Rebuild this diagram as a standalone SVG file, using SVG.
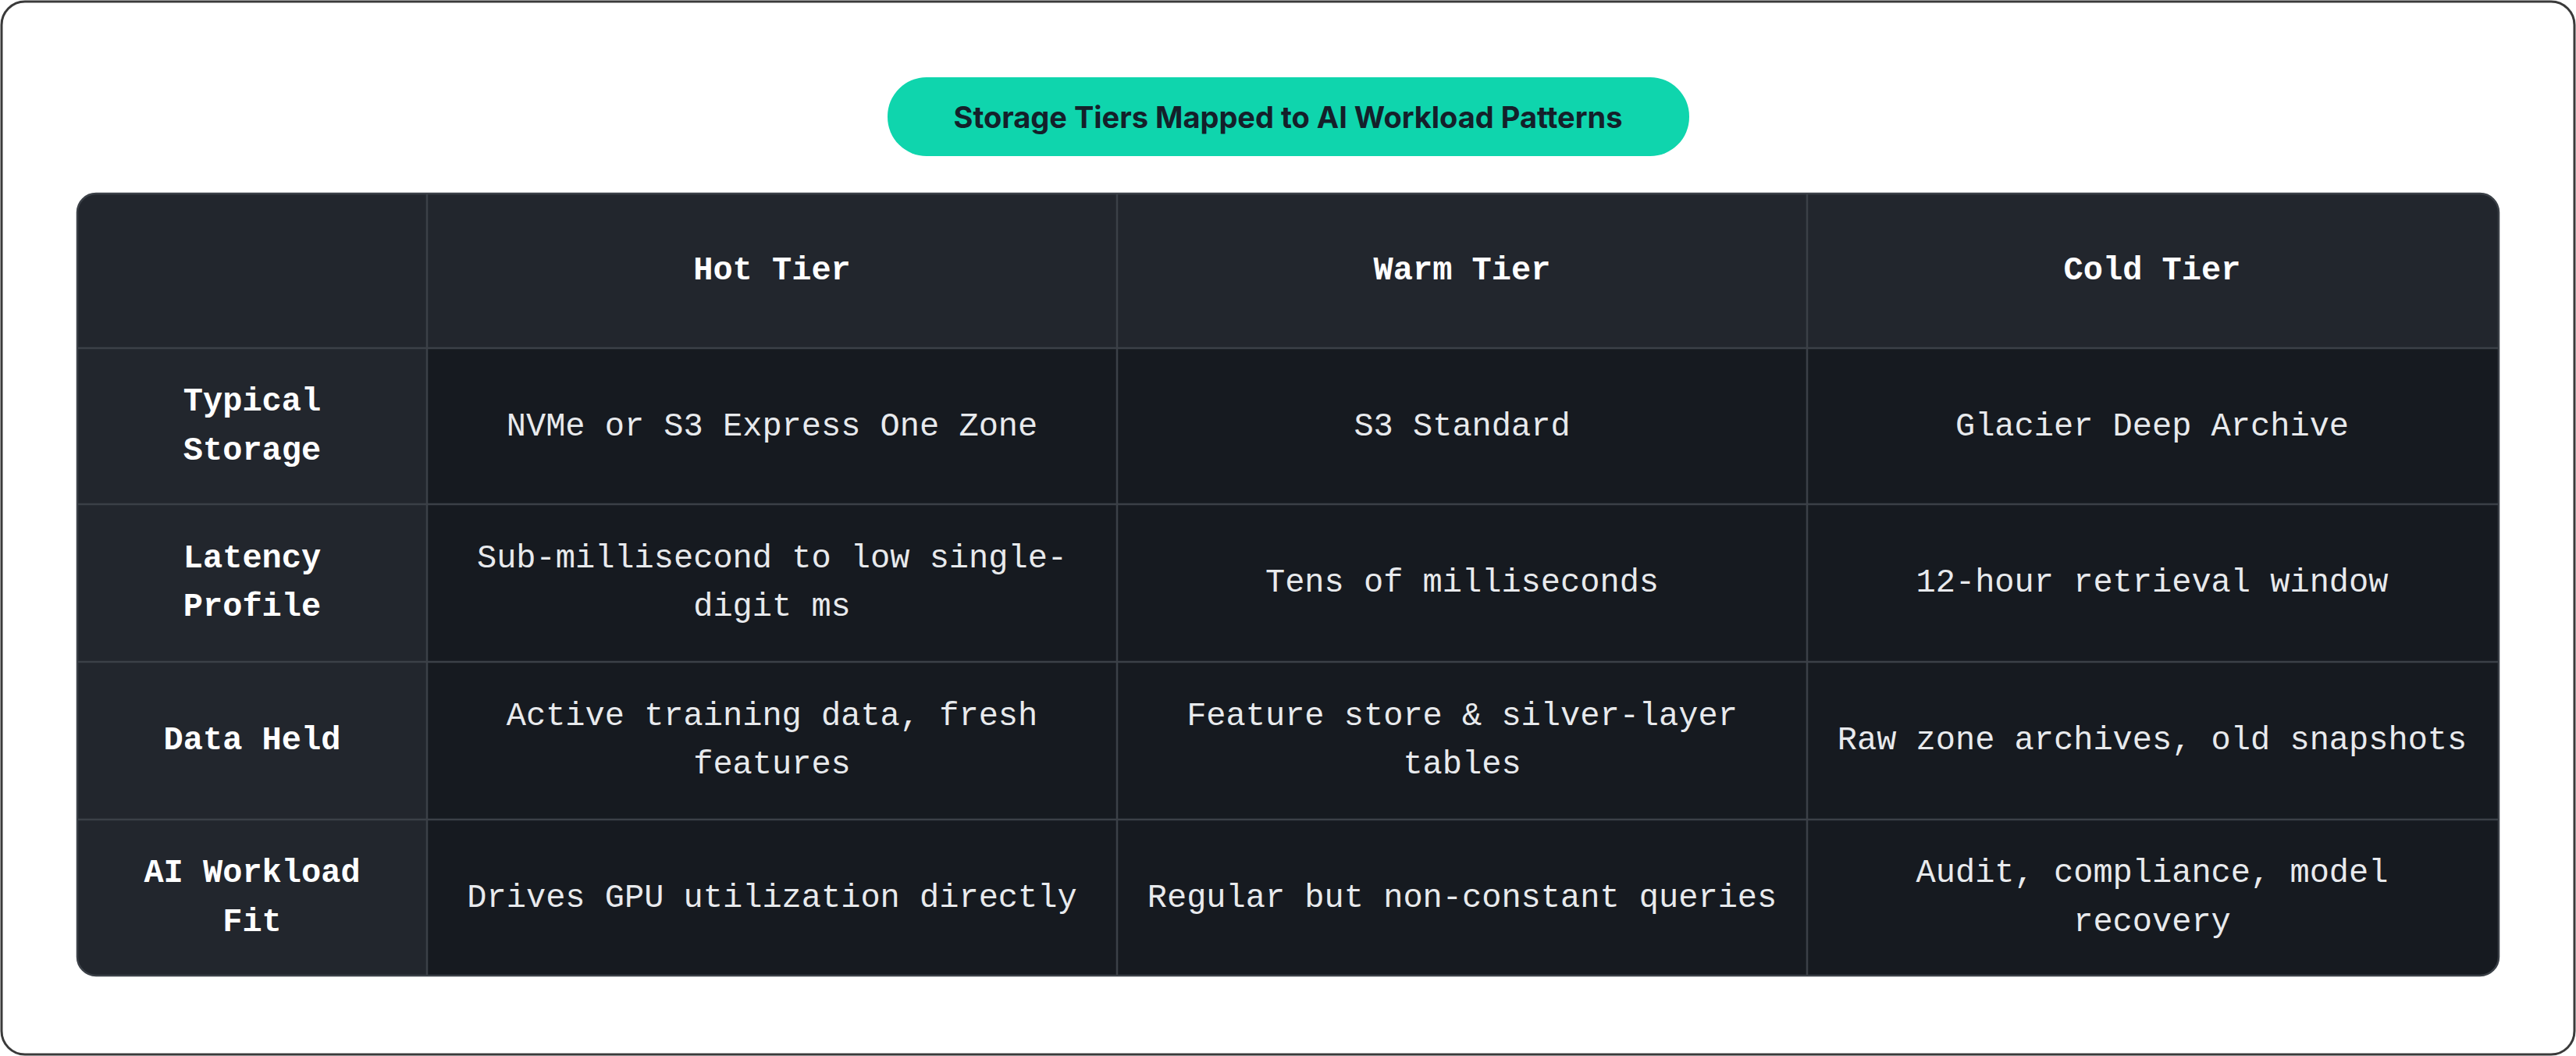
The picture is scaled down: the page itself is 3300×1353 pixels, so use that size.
<svg xmlns="http://www.w3.org/2000/svg" width="3300" height="1353" viewBox="0 0 3300 1353">
<style>
.c{font-family:"Liberation Mono","DejaVu Sans Mono",monospace;font-size:42px;fill:#e8eaed;text-anchor:middle;dominant-baseline:central}
.b{font-weight:bold;fill:#ffffff}
.g{stroke:#3b4047;stroke-width:2.5;fill:none}
</style>
<rect x="2" y="2" width="3296" height="1349" rx="30" fill="#ffffff" stroke="#3a3a3a" stroke-width="3"/>
<g id="title">
<rect x="1137" y="99" width="1027" height="101" rx="50" fill="#0fd5ad"/>
<text x="1650" y="150" font-family="Inter,'Liberation Sans',sans-serif" font-size="38" font-weight="bold" fill="#14202a" text-anchor="middle" dominant-baseline="central">Storage Tiers Mapped to AI Workload Patterns</text>
</g>
<g id="table">
<rect x="99" y="248" width="3102" height="1002" rx="24" fill="#161a20"/>
<path d="M123 248H3177a24 24 0 0 1 24 24V446H99V272a24 24 0 0 1 24-24z" fill="#22262d"/>
<path d="M99 446H547V1250H123a24 24 0 0 1-24-24z" fill="#22262d"/>
<g class="g">
<rect x="99" y="248" width="3102" height="1002" rx="24"/>
<path d="M547 248V1250M1431 248V1250M2315 248V1250M99 446H3201M99 646H3201M99 848H3201M99 1050H3201"/>
</g>
</g>
<g id="headers">
<text class="c b" x="989" y="347">Hot Tier</text>
<text class="c b" x="1873" y="347">Warm Tier</text>
<text class="c b" x="2757" y="347">Cold Tier</text>
<text class="c b" x="323" y="515">Typical</text><text class="c b" x="323" y="578">Storage</text>
<text class="c b" x="323" y="716">Latency</text><text class="c b" x="323" y="778">Profile</text>
<text class="c b" x="323" y="949">Data Held</text>
<text class="c b" x="323" y="1119">AI Workload</text><text class="c b" x="323" y="1182">Fit</text>
</g>
<g id="cells">
<text class="c" x="989" y="547">NVMe or S3 Express One Zone</text>
<text class="c" x="1873" y="547">S3 Standard</text>
<text class="c" x="2757" y="547">Glacier Deep Archive</text>
<text class="c" x="989" y="716">Sub-millisecond to low single-</text><text class="c" x="989" y="778">digit ms</text>
<text class="c" x="1873" y="747">Tens of milliseconds</text>
<text class="c" x="2757" y="747">12-hour retrieval window</text>
<text class="c" x="989" y="918">Active training data, fresh</text><text class="c" x="989" y="980">features</text>
<text class="c" x="1873" y="918">Feature store &amp; silver-layer</text><text class="c" x="1873" y="980">tables</text>
<text class="c" x="2757" y="949">Raw zone archives, old snapshots</text>
<text class="c" x="989" y="1151">Drives GPU utilization directly</text>
<text class="c" x="1873" y="1151">Regular but non-constant queries</text>
<text class="c" x="2757" y="1119">Audit, compliance, model</text><text class="c" x="2757" y="1182">recovery</text>
</g>
</svg>
